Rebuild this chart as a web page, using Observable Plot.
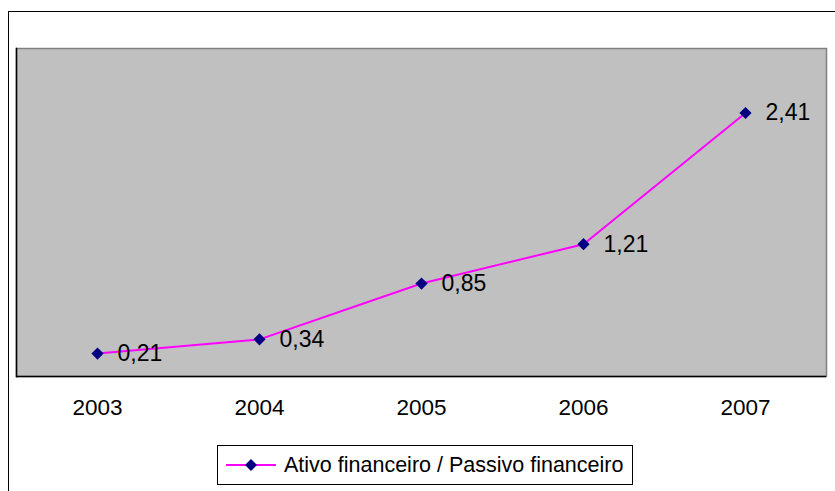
<!DOCTYPE html>
<html>
<head>
<meta charset="utf-8">
<script src="https://cdn.jsdelivr.net/npm/d3@7"></script>
<script src="https://cdn.jsdelivr.net/npm/@observablehq/plot@0.6"></script>
<style>
  html, body { margin: 0; padding: 0; background: #fff; }
  #wrap { position: relative; width: 835px; height: 491px; overflow: hidden; font-family: Arial, "Liberation Sans", sans-serif; }
  #outer { position: absolute; left: 8px; top: 11px; width: 840px; height: 500px; border-left: 1px solid #000; border-top: 1px solid #000; box-sizing: border-box; }
  #chart { position: absolute; left: 0; top: 0; }
  #legend { position: absolute; left: 217px; top: 445px; width: 416px; height: 40px; border: 1px solid #000; background: #fff; box-sizing: border-box; display: flex; align-items: center; }
  #legend span { font-size: 21.5px; color: #000; margin-left: 0px; white-space: nowrap; }
</style>
</head>
<body>
<div id="wrap">
  <div id="outer"></div>
  <div id="chart"></div>
  <div id="legend"></div>
</div>
<script>
const years = ["2003", "2004", "2005", "2006", "2007"];
const values = [0.21, 0.34, 0.85, 1.21, 2.41];
const seriesName = "Ativo financeiro / Passivo financeiro";

const data = years.map((y, i) => ({year: y, value: values[i]}));
const fmt = v => v.toFixed(2).replace(".", ",");

const chart = Plot.plot({
  width: 835,
  height: 430,
  marginLeft: 16,
  marginRight: 9,
  marginTop: 48,
  marginBottom: 54,
  style: {fontFamily: "Arial, 'Liberation Sans', sans-serif", background: "transparent", overflow: "visible"},
  x: {type: "point", domain: years, padding: 0.5, label: null},
  y: {domain: [0, 3], axis: null},
  marks: [
    Plot.frame({fill: "#c0c0c0", stroke: "#808080", strokeWidth: 1.5}),
    Plot.ruleY([0], {stroke: "#000", strokeWidth: 1.5}),
    Plot.frame({anchor: "left", stroke: "#000", strokeWidth: 1.5}),
    Plot.axisX({tickSize: 0, tickPadding: 23, fontSize: 22.5, fill: "#000", label: null}),
    Plot.line(data, {x: "year", y: "value", stroke: "#ff00ff", strokeWidth: 2}),
    Plot.dot(data, {x: "year", y: "value", symbol: "diamond2", r: 5.5, fill: "#000080", stroke: "none"}),
    Plot.text(data, {x: "year", y: "value", text: d => fmt(d.value), textAnchor: "start", dx: 20, fontSize: 23, fill: "#000"})
  ]
});
document.getElementById("chart").appendChild(chart);

// legend
const leg = document.getElementById("legend");
const ns = "http://www.w3.org/2000/svg";
const sv = document.createElementNS(ns, "svg");
sv.setAttribute("width", 60); sv.setAttribute("height", 20);
sv.style.marginLeft = "6px";
const ln = document.createElementNS(ns, "line");
ln.setAttribute("x1", 2); ln.setAttribute("x2", 52); ln.setAttribute("y1", 10); ln.setAttribute("y2", 10);
ln.setAttribute("stroke", "#ff00ff"); ln.setAttribute("stroke-width", 2);
sv.appendChild(ln);
const dm = document.createElementNS(ns, "path");
dm.setAttribute("d", "M27,4L33,10L27,16L21,10Z");
dm.setAttribute("fill", "#000080");
sv.appendChild(dm);
leg.appendChild(sv);
const sp = document.createElement("span");
sp.textContent = seriesName;
leg.appendChild(sp);
</script>
</body>
</html>
